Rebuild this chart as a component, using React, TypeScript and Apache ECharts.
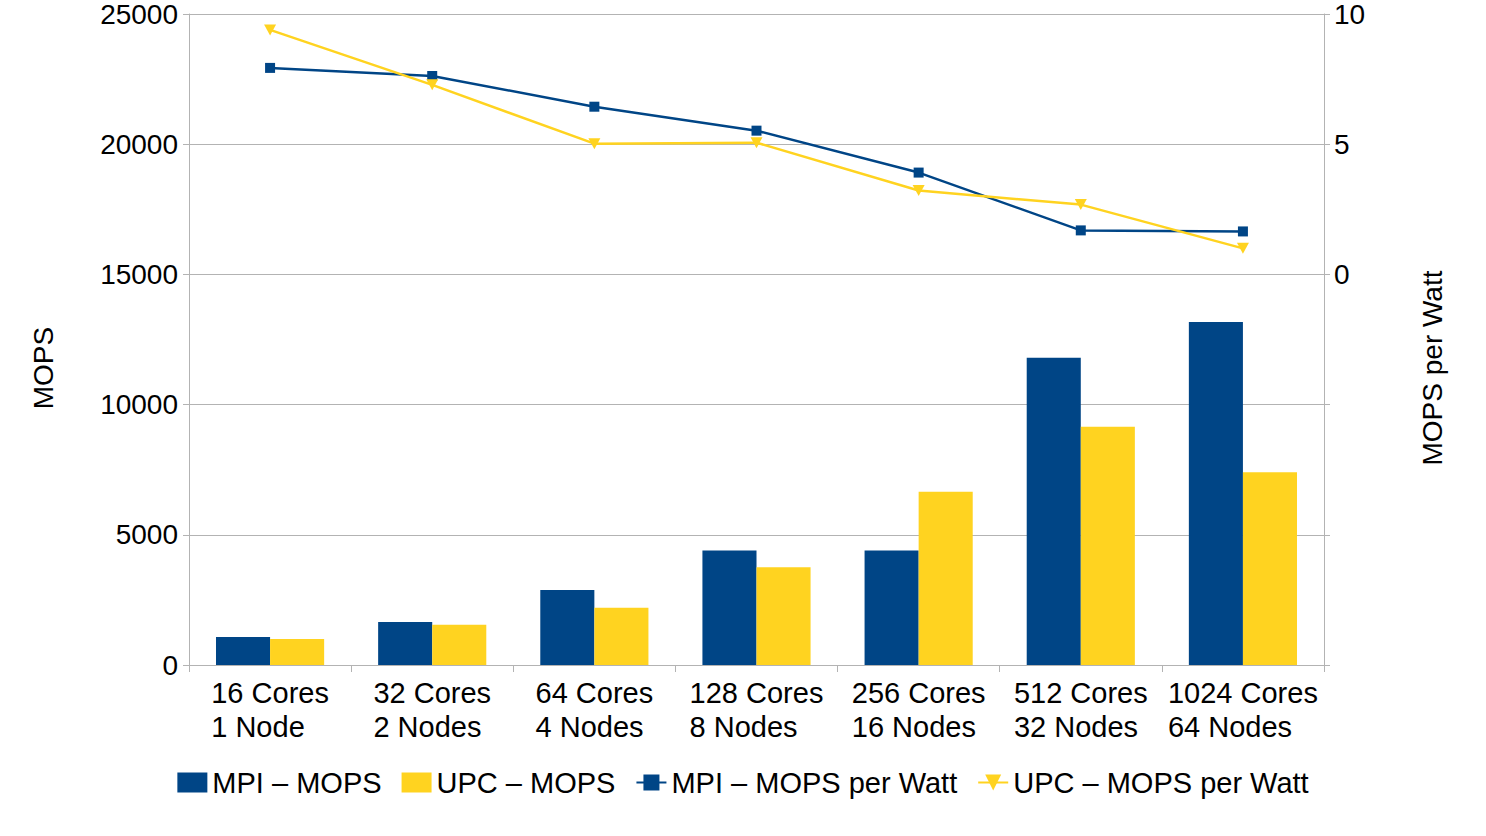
import React, { useEffect, useRef } from "react";
import * as echarts from "echarts";

const categories = [
  "16 Cores\n1 Node",
  "32 Cores\n2 Nodes",
  "64 Cores\n4 Nodes",
  "128 Cores\n8 Nodes",
  "256 Cores\n16 Nodes",
  "512 Cores\n32 Nodes",
  "1024 Cores\n64 Nodes",
];
const mpiMops = [1080, 1650, 2880, 4400, 4400, 11800, 13170];
const upcMops = [1000, 1550, 2200, 3750, 6650, 9150, 7400];
const mpiPerWatt = [7.93, 7.62, 6.44, 5.52, 3.91, 1.69, 1.65];
const upcPerWatt = [9.39, 7.28, 5.02, 5.06, 3.22, 2.68, 1.0];

const leftTicks = { min: 0, max: 25000, interval: 5000 };
const rightTicks = { min: -15, max: 10, interval: 5 };

const MPI_COLOR = "#004586";
const UPC_COLOR = "#ffd320";
const GRID_COLOR = "#b3b3b3";
const FONT = "Liberation Sans";

export default function App() {
  const ref = useRef<HTMLDivElement>(null);
  useEffect(() => {
    if (!ref.current) return;
    const chart = echarts.init(ref.current, null, { renderer: "svg" });
    const option: any = {
      animation: false,
      backgroundColor: "#ffffff",
      textStyle: { fontFamily: FONT },
      grid: { left: 189, right: 162, top: 11, bottom: 171, containLabel: false },
      legend: {
        left: "center",
        top: 763,
        itemWidth: 30,
        itemHeight: 20,
        itemGap: 20,
        textStyle: { fontFamily: FONT, fontSize: 29, color: "#000" },
        data: [
          { name: "MPI – MOPS", icon: "rect" },
          { name: "UPC – MOPS", icon: "rect" },
          { name: "MPI – MOPS per Watt" },
          { name: "UPC – MOPS per Watt" },
        ],
      },
      xAxis: {
        type: "category",
        data: categories,
        boundaryGap: true,
        axisLine: { show: true, lineStyle: { color: GRID_COLOR, width: 1 } },
        axisTick: { show: true, length: 7, interval: 0, lineStyle: { color: GRID_COLOR } },
        axisLabel: {
          interval: 0,
          margin: 11,
          color: "#000",
          fontFamily: FONT,
          fontSize: 29,
          lineHeight: 34,
          formatter: (v: string) =>
            v
              .split("\n")
              .map((l) => `{a|${l}}`)
              .join("\n"),
          rich: {
            a: { align: "left", fontFamily: FONT, fontSize: 29, lineHeight: 34, color: "#000" },
          },
        },
      },
      yAxis: [
        {
          type: "value",
          min: leftTicks.min,
          max: leftTicks.max,
          interval: leftTicks.interval,
          axisLine: { show: true, lineStyle: { color: GRID_COLOR } },
          axisTick: { show: true, length: 6, lineStyle: { color: GRID_COLOR } },
          splitLine: { show: true, lineStyle: { color: GRID_COLOR, width: 1 } },
          axisLabel: {
            margin: 11,
            color: "#000",
            fontFamily: FONT,
            fontSize: 28,
            formatter: (v: number) => String(v),
          },
        },
        {
          type: "value",
          position: "right",
          min: rightTicks.min,
          max: rightTicks.max,
          interval: rightTicks.interval,
          axisLine: { show: true, lineStyle: { color: GRID_COLOR } },
          axisTick: { show: true, length: 6, lineStyle: { color: GRID_COLOR } },
          splitLine: { show: false },
          axisLabel: {
            margin: 10,
            color: "#000",
            fontFamily: FONT,
            fontSize: 28,
            formatter: (v: number) => (v >= 0 ? String(v) : ""),
          },
        },
      ],
      graphic: [
        {
          type: "text",
          x: 43,
          y: 368,
          rotation: Math.PI / 2,
          style: {
            text: "MOPS",
            fontFamily: FONT,
            fontSize: 28,
            fill: "#000",
            align: "center",
            verticalAlign: "middle",
          },
        },
        {
          type: "text",
          x: 1432,
          y: 368,
          rotation: Math.PI / 2,
          style: {
            text: "MOPS per Watt",
            fontFamily: FONT,
            fontSize: 28,
            fill: "#000",
            align: "center",
            verticalAlign: "middle",
          },
        },
      ],
      series: [
        {
          name: "MPI – MOPS",
          type: "bar",
          data: mpiMops,
          barGap: "0%",
          barCategoryGap: "33.3%",
          itemStyle: { color: MPI_COLOR },
        },
        {
          name: "UPC – MOPS",
          type: "bar",
          data: upcMops,
          barGap: "0%",
          barCategoryGap: "33.3%",
          itemStyle: { color: UPC_COLOR },
        },
        {
          name: "MPI – MOPS per Watt",
          type: "line",
          yAxisIndex: 1,
          data: mpiPerWatt,
          symbol: "rect",
          symbolSize: 10,
          lineStyle: { color: MPI_COLOR, width: 2.5 },
          itemStyle: { color: MPI_COLOR },
          z: 5,
        },
        {
          name: "UPC – MOPS per Watt",
          type: "line",
          yAxisIndex: 1,
          data: upcPerWatt,
          symbol: "path://M0,0L10,0L5,9Z",
          symbolSize: [12, 11],
          lineStyle: { color: UPC_COLOR, width: 2.5 },
          itemStyle: { color: UPC_COLOR },
          z: 5,
        },
      ],
    };
    chart.setOption(option);
    return () => chart.dispose();
  }, []);
  return (
    <div
      ref={ref}
      style={{ position: "absolute", left: 0, top: 0, width: 1486, height: 836 }}
    />
  );
}
